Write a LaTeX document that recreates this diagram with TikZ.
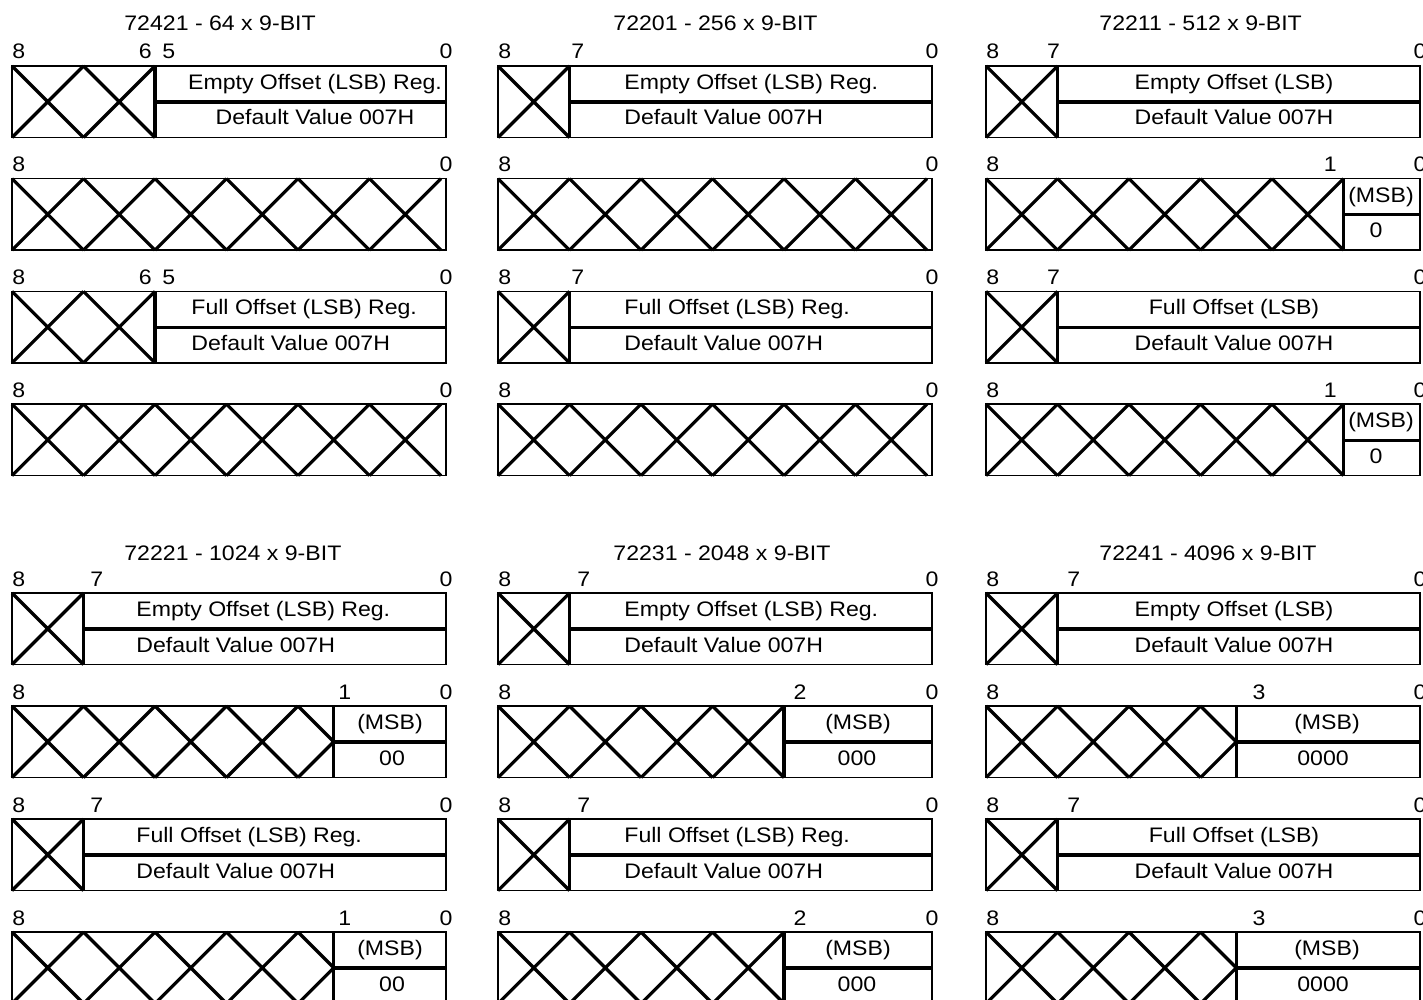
\documentclass[tikz,border=0pt]{standalone}
\usepackage{fontspec}
\setmainfont[FakeStretch=1.1]{Liberation Sans}

\begin{document}
\begin{tikzpicture}[x=0.5pt, y=-0.5pt,
  every node/.style={font=\fontsize{10.5}{12}\selectfont, inner sep=0pt},
  frame/.style={draw, line width=0.7pt},
  xline/.style={draw, line width=1.6pt},
  title/.style={anchor=base west},
  bitno/.style={anchor=base},
  field/.style={anchor=base}]
\useasboundingbox (0,0) rectangle (1423,1000);
\clip (0,0) rectangle (1423,1000);

% 72421 - 64 x 9-BIT
\node (tA) [title] at (124,30.5) {72421 - 64 x 9-BIT};
\foreach \ty/\rw/\txt/\px/\anc in {66/1/Empty/315/base, 291.4/3/Full/191/base west} {
  \draw[frame] (12,\ty) rectangle (446,\ty+71.5);
  \foreach \k in {0,1}
    \draw[xline] (12+\k*71.5,\ty) -- ++(71.5,71.5) ++(-71.5,0) -- ++(71.5,-71.5);
  \draw[xline] (155,\ty) -- (155,\ty+71.5) (155,\ty+36) -- (446,\ty+36);
  \node (A\rw-8) [bitno, anchor=base west] at (12,\ty-7) {8};
  \node (A\rw-6) [bitno, anchor=base east] at (152,\ty-7) {6};
  \node (A\rw-5) [bitno, anchor=base west] at (162,\ty-7) {5};
  \node (A\rw-0) [bitno] at (446,\ty-7) {0};
  \node (A\rw-name) [field, anchor=\anc] at (\px,\ty+23.5) {\txt\ Offset (LSB) Reg.};
  \node (A\rw-def) [field, anchor=\anc] at (\px,\ty+59) {Default Value 007H};
}
\foreach \ty/\rw in {178.7/2, 404.1/4} {
  \draw[frame] (12,\ty) rectangle (446,\ty+71.5);
  \foreach \k in {0,...,5}
    \draw[xline] (12+\k*71.5,\ty) -- ++(71.5,71.5) ++(-71.5,0) -- ++(71.5,-71.5);
  \node (A\rw-8) [bitno, anchor=base west] at (12,\ty-7) {8};
  \node (A\rw-0) [bitno] at (446,\ty-7) {0};
}

% 72201 - 256 x 9-BIT
\node (tB) [title] at (613,30.5) {72201 - 256 x 9-BIT};
\foreach \ty/\rw/\txt in {66/1/Empty, 291.4/3/Full} {
  \draw[frame] (498,\ty) rectangle (932,\ty+71.5);
  \draw[xline] (498,\ty) -- ++(71.5,71.5) ++(-71.5,0) -- ++(71.5,-71.5);
  \draw[xline] (569.5,\ty) -- (569.5,\ty+71.5) (569.5,\ty+36) -- (932,\ty+36);
  \node (B\rw-8) [bitno, anchor=base west] at (498,\ty-7) {8};
  \node (B\rw-7) [bitno, anchor=base west] at (571,\ty-7) {7};
  \node (B\rw-0) [bitno] at (932,\ty-7) {0};
  \node (B\rw-name) [field, anchor=base west] at (624,\ty+23.5) {\txt\ Offset (LSB) Reg.};
  \node (B\rw-def) [field, anchor=base west] at (624,\ty+59) {Default Value 007H};
}
\foreach \ty/\rw in {178.7/2, 404.1/4} {
  \draw[frame] (498,\ty) rectangle (932,\ty+71.5);
  \foreach \k in {0,...,5}
    \draw[xline] (498+\k*71.5,\ty) -- ++(71.5,71.5) ++(-71.5,0) -- ++(71.5,-71.5);
  \node (B\rw-8) [bitno, anchor=base west] at (498,\ty-7) {8};
  \node (B\rw-0) [bitno] at (932,\ty-7) {0};
}

% 72211 - 512 x 9-BIT
\node (tC) [title] at (1099,30.5) {72211 - 512 x 9-BIT};
\foreach \ty/\rw/\txt in {66/1/Empty, 291.4/3/Full} {
  \draw[frame] (986,\ty) rectangle (1420,\ty+71.5);
  \draw[xline] (986,\ty) -- ++(71.5,71.5) ++(-71.5,0) -- ++(71.5,-71.5);
  \draw[xline] (1057.5,\ty) -- (1057.5,\ty+71.5) (1057.5,\ty+36) -- (1420,\ty+36);
  \node (C\rw-8) [bitno, anchor=base west] at (986,\ty-7) {8};
  \node (C\rw-7) [bitno] at (1053.5,\ty-7) {7};
  \node (C\rw-0) [bitno] at (1420,\ty-7) {0};
  \node (C\rw-name) [field] at (1234,\ty+23.5) {\txt\ Offset (LSB)};
  \node (C\rw-def) [field] at (1234,\ty+59) {Default Value 007H};
}
\foreach \ty/\rw in {178.7/2, 404.1/4} {
  \draw[frame] (986,\ty) rectangle (1420,\ty+71.5);
  \foreach \k in {0,...,4}
    \draw[xline] (986+\k*71.5,\ty) -- ++(71.5,71.5) ++(-71.5,0) -- ++(71.5,-71.5);
  \draw[xline] (1343.5,\ty) -- (1343.5,\ty+71.5) (1343.5,\ty+36) -- (1420,\ty+36);
  \node (C\rw-8) [bitno, anchor=base west] at (986,\ty-7) {8};
  \node (C\rw-1) [bitno, anchor=base east] at (1337,\ty-7) {1};
  \node (C\rw-0) [bitno] at (1420,\ty-7) {0};
  \node (C\rw-msb) [field] at (1381,\ty+23.5) {(MSB)};
  \node (C\rw-val) [field] at (1376,\ty+59) {0};
}

% 72221 - 1024 x 9-BIT
\node (tD) [title] at (124,560.5) {72221 - 1024 x 9-BIT};
\foreach \ty/\rw/\txt in {593/1/Empty, 819/3/Full} {
  \draw[frame] (12,\ty) rectangle (446,\ty+71.5);
  \draw[xline] (12,\ty) -- ++(71.5,71.5) ++(-71.5,0) -- ++(71.5,-71.5);
  \draw[xline] (83.5,\ty) -- (83.5,\ty+71.5) (83.5,\ty+36) -- (446,\ty+36);
  \node (D\rw-8) [bitno, anchor=base west] at (12,\ty-7) {8};
  \node (D\rw-7) [bitno, anchor=base west] at (90,\ty-7) {7};
  \node (D\rw-0) [bitno] at (446,\ty-7) {0};
  \node (D\rw-name) [field, anchor=base west] at (136,\ty+23.5) {\txt\ Offset (LSB) Reg.};
  \node (D\rw-def) [field, anchor=base west] at (136,\ty+59) {Default Value 007H};
}
\foreach \ty/\rw in {706/2, 932/4} {
  \draw[frame] (12,\ty) rectangle (446,\ty+71.5);
  \begin{scope}
    \clip (10,\ty-2) rectangle (333.75,\ty+73.5);
    \foreach \k in {0,...,4}
      \draw[xline] (12+\k*71.5,\ty) -- ++(71.5,71.5) ++(-71.5,0) -- ++(71.5,-71.5);
  \end{scope}
  \draw[xline] (333.75,\ty) -- (333.75,\ty+71.5) (333.75,\ty+36) -- (446,\ty+36);
  \node (D\rw-8) [bitno, anchor=base west] at (12,\ty-7) {8};
  \node (D\rw-1) [bitno, anchor=base west] at (338,\ty-7) {1};
  \node (D\rw-0) [bitno] at (446,\ty-7) {0};
  \node (D\rw-msb) [field] at (390,\ty+23.5) {(MSB)};
  \node (D\rw-val) [field] at (392,\ty+59) {00};
}

% 72231 - 2048 x 9-BIT
\node (tE) [title] at (613,560.5) {72231 - 2048 x 9-BIT};
\foreach \ty/\rw/\txt in {593/1/Empty, 819/3/Full} {
  \draw[frame] (498,\ty) rectangle (932,\ty+71.5);
  \draw[xline] (498,\ty) -- ++(71.5,71.5) ++(-71.5,0) -- ++(71.5,-71.5);
  \draw[xline] (569.5,\ty) -- (569.5,\ty+71.5) (569.5,\ty+36) -- (932,\ty+36);
  \node (E\rw-8) [bitno, anchor=base west] at (498,\ty-7) {8};
  \node (E\rw-7) [bitno, anchor=base west] at (577,\ty-7) {7};
  \node (E\rw-0) [bitno] at (932,\ty-7) {0};
  \node (E\rw-name) [field, anchor=base west] at (624,\ty+23.5) {\txt\ Offset (LSB) Reg.};
  \node (E\rw-def) [field, anchor=base west] at (624,\ty+59) {Default Value 007H};
}
\foreach \ty/\rw in {706/2, 932/4} {
  \draw[frame] (498,\ty) rectangle (932,\ty+71.5);
  \foreach \k in {0,...,3}
    \draw[xline] (498+\k*71.5,\ty) -- ++(71.5,71.5) ++(-71.5,0) -- ++(71.5,-71.5);
  \draw[xline] (784,\ty) -- (784,\ty+71.5) (784,\ty+36) -- (932,\ty+36);
  \node (E\rw-8) [bitno, anchor=base west] at (498,\ty-7) {8};
  \node (E\rw-2) [bitno] at (800,\ty-7) {2};
  \node (E\rw-0) [bitno] at (932,\ty-7) {0};
  \node (E\rw-msb) [field] at (858,\ty+23.5) {(MSB)};
  \node (E\rw-val) [field] at (857,\ty+59) {000};
}

% 72241 - 4096 x 9-BIT
\node (tF) [title] at (1099,560.5) {72241 - 4096 x 9-BIT};
\foreach \ty/\rw/\txt in {593/1/Empty, 819/3/Full} {
  \draw[frame] (986,\ty) rectangle (1420,\ty+71.5);
  \draw[xline] (986,\ty) -- ++(71.5,71.5) ++(-71.5,0) -- ++(71.5,-71.5);
  \draw[xline] (1057.5,\ty) -- (1057.5,\ty+71.5) (1057.5,\ty+36) -- (1420,\ty+36);
  \node (F\rw-8) [bitno, anchor=base west] at (986,\ty-7) {8};
  \node (F\rw-7) [bitno, anchor=base west] at (1067,\ty-7) {7};
  \node (F\rw-0) [bitno] at (1420,\ty-7) {0};
  \node (F\rw-name) [field] at (1234,\ty+23.5) {\txt\ Offset (LSB)};
  \node (F\rw-def) [field] at (1234,\ty+59) {Default Value 007H};
}
\foreach \ty/\rw in {706/2, 932/4} {
  \draw[frame] (986,\ty) rectangle (1420,\ty+71.5);
  \begin{scope}
    \clip (984,\ty-2) rectangle (1236.25,\ty+73.5);
    \foreach \k in {0,...,3}
      \draw[xline] (986+\k*71.5,\ty) -- ++(71.5,71.5) ++(-71.5,0) -- ++(71.5,-71.5);
  \end{scope}
  \draw[xline] (1236.25,\ty) -- (1236.25,\ty+71.5) (1236.25,\ty+36) -- (1420,\ty+36);
  \node (F\rw-8) [bitno, anchor=base west] at (986,\ty-7) {8};
  \node (F\rw-3) [bitno] at (1259,\ty-7) {3};
  \node (F\rw-0) [bitno] at (1420,\ty-7) {0};
  \node (F\rw-msb) [field] at (1327,\ty+23.5) {(MSB)};
  \node (F\rw-val) [field] at (1323,\ty+59) {0000};
}

\end{tikzpicture}
\end{document}
